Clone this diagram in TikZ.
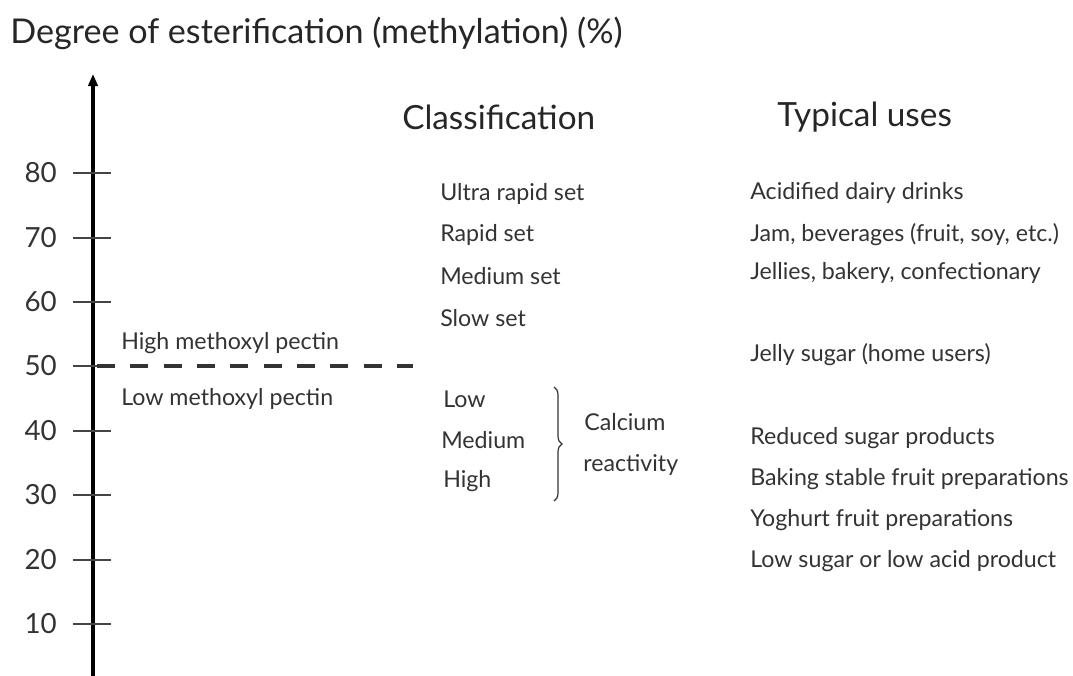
\documentclass[tikz,border=0pt]{standalone}
\usepackage{fontspec}
\setmainfont{Lato}
\usetikzlibrary{decorations.pathreplacing,arrows.meta}
\definecolor{txt}{HTML}{333333}
\definecolor{tickc}{HTML}{444444}
\begin{document}
\begin{tikzpicture}[x=0.75pt,y=-0.75pt,
  lab/.style={text=txt,inner sep=0pt,anchor=west,font=\fontsize{17.4}{20}\selectfont},
  head/.style={text=black!85,inner sep=0pt,anchor=west,font=\fontsize{25}{29}\selectfont},
  num/.style={text=txt,inner sep=0pt,anchor=east,font=\fontsize{20.8}{24}\selectfont},
  tickmark/.style={draw=tickc,line width=2pt},
]
\useasboundingbox (0,0) rectangle (1073,675);
% title
\node[head,font=\fontsize{25.6}{30}\selectfont] (title) at (10,33) {Degree of esterification (methylation) (\%)};
% axis
\coordinate (abot) at (93,676);
\coordinate (atop) at (93,74);
\draw[line width=2.4pt,-{Triangle[length=9pt,width=7pt]}] (abot) -- (atop);
% ticks
\foreach \v/\y in {80/173,70/238,60/302,50/366,40/431,30/495,20/560,10/624}{
  \coordinate (tl\v) at (73,\y);
  \coordinate (tr\v) at (111,\y);
  \draw[tickmark] (tl\v) -- (tr\v);
  \node[num] (n\v) at (57,\y) {\v};
}
% dashed line
\coordinate (dstart) at (97,366);
\coordinate (dend) at (413,366);
\draw[draw=black!80,line width=2.4pt,dash pattern=on 13.5pt off 11.5pt] (dstart) -- (dend);
\node[lab] (hmp) at (121,343) {High methoxyl pectin};
\node[lab] (lmp) at (121,399) {Low methoxyl pectin};
% headings
\node[head] (cls) at (402,117) {Classification};
\node[head] (tu) at (777,117) {Typical uses};
% classification
\node[lab] (c1) at (440,194) {Ultra rapid set};
\node[lab] (c2) at (440,235) {Rapid set};
\node[lab] (c3) at (440,276) {Medium set};
\node[lab] (c4) at (440,318) {Slow set};
\node[lab] (c5) at (443,399) {Low};
\node[lab] (c6) at (441,440) {Medium};
\node[lab] (c7) at (443,481) {High};
\coordinate (btop) at (554,387);
\coordinate (bbot) at (554,501);
\draw[txt,line width=0.9pt,decorate,decoration={brace,amplitude=6pt}] (btop) -- (bbot);
\node[lab] (ca1) at (584,422) {Calcium};
\node[lab] (ca2) at (583,465) {reactivity};
% uses
\node[lab] (u1) at (750,193) {Acidified dairy drinks};
\node[lab] (u2) at (750,235) {Jam, beverages (fruit, soy, etc.)};
\node[lab] (u3) at (750,273) {Jellies, bakery, confectionary};
\node[lab] (u4) at (750,355) {Jelly sugar (home users)};
\node[lab] (u5) at (750,438) {Reduced sugar products};
\node[lab] (u6) at (750,479) {Baking stable fruit preparations};
\node[lab] (u7) at (750,520) {Yoghurt fruit preparations};
\node[lab] (u8) at (750,561) {Low sugar or low acid product};
\end{tikzpicture}
\end{document}
